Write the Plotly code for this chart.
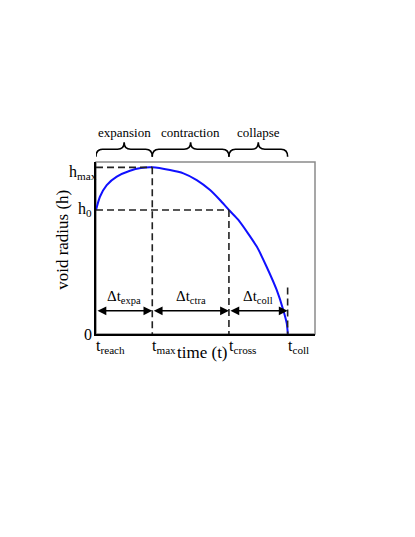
import plotly.graph_objects as go

# ---- data ----
curve_t = [0.0, 0.018, 0.049, 0.095, 0.155, 0.205, 0.257, 0.338, 0.399, 0.460,
           0.521, 0.566, 0.607, 0.650, 0.734, 0.779, 0.825, 0.855, 0.871, 0.876]
curve_h = [0.721, 0.798, 0.866, 0.915, 0.949, 0.965, 0.969, 0.953, 0.934, 0.895,
           0.837, 0.779, 0.721, 0.663, 0.508, 0.391, 0.256, 0.140, 0.062, 0.0]

t_names = ["reach", "max", "cross", "coll"]
t_values = [0.0, 0.257, 0.607, 0.875]

h_names = ["0", "h<sub>0</sub>", "h<sub>max</sub>"]
h_values = [0.0, 0.721, 0.969]

phase_names = ["expansion", "contraction", "collapse"]
delta_names = ["expa", "ctra", "coll"]

# ---- styling constants ----
FONT = "'Liberation Serif', 'Times New Roman', Times, serif"
ARROW_Y = 0.135
COLL_MARK_TOP = 0.27

fig = go.Figure()

fig.add_trace(go.Scatter(
    x=curve_t, y=curve_h, mode="lines",
    line=dict(color="#1010ff", width=2, shape="spline", smoothing=0.6),
    hoverinfo="skip", showlegend=False,
))

dash = "7px,4px"
dline = dict(color="#222222", width=1.6, dash=dash)
t0, tmax, tcross, tcoll = t_values
h0, hmax = h_values[1], h_values[2]

# dashed guide lines
fig.add_shape(type="line", x0=t0, x1=tmax, y0=hmax, y1=hmax, line=dline)
fig.add_shape(type="line", x0=tmax, x1=tmax, y0=hmax, y1=0, line=dline)
fig.add_shape(type="line", x0=t0, x1=tcross, y0=h0, y1=h0, line=dline)
fig.add_shape(type="line", x0=tcross, x1=tcross, y0=h0, y1=0, line=dline)
fig.add_shape(type="line", x0=tcoll, x1=tcoll, y0=COLL_MARK_TOP, y1=0, line=dline)

# frame (gray top/right)
fig.add_shape(type="rect", xref="paper", yref="paper", x0=0, x1=1, y0=0, y1=1,
              line=dict(color="#8a8a8a", width=1.5), layer="below")

# double-headed arrows and delta labels
for i in range(3):
    a, b = t_values[i], t_values[i + 1]
    fig.add_annotation(x=b, y=ARROW_Y, ax=a, ay=ARROW_Y, axref="x", ayref="y",
                       xref="x", yref="y", text="", showarrow=True,
                       arrowside="end+start", arrowhead=2, arrowsize=1.1,
                       arrowwidth=1.6, arrowcolor="black", standoff=0, startstandoff=0)
    fig.add_annotation(x=(a + b) / 2, y=ARROW_Y, xref="x", yref="y",
                       text="Δt<sub>%s</sub>" % delta_names[i], showarrow=False,
                       xanchor="center", yanchor="bottom", yshift=3,
                       font=dict(family=FONT, size=15, color="black"))

# braces and phase labels
yb, ym, yt = 1.031, 1.074, 1.115
r = 0.03
for i in range(3):
    a, b = t_values[i], t_values[i + 1]
    m = (a + b) / 2
    path = (f"M {a},{yb} Q {a},{ym} {a + r},{ym} L {m - r},{ym} "
            f"Q {m},{ym} {m},{yt} Q {m},{ym} {m + r},{ym} "
            f"L {b - r},{ym} Q {b},{ym} {b},{yb}")
    fig.add_shape(type="path", path=path, xref="x", yref="paper",
                  line=dict(color="black", width=1.6))
    fig.add_annotation(x=m, y=1.17, xref="x", yref="paper", text=phase_names[i],
                       showarrow=False, xanchor="center", yanchor="middle",
                       font=dict(family=FONT, size=13, color="black"))

# x tick labels (left aligned)
for name, v in zip(t_names, t_values):
    fig.add_annotation(x=v, y=0, xref="x", yref="paper",
                       text="t<sub>%s</sub>" % name, showarrow=False,
                       xanchor="left", yanchor="top", xshift=-2, yshift=-1,
                       font=dict(family=FONT, size=16, color="black"))

# y tick labels
for name, v in zip(h_names, h_values):
    is_max = v == hmax
    fig.add_annotation(x=0, y=v, xref="paper", yref="y", text=name,
                       showarrow=False, xanchor="right", yanchor="middle",
                       xshift=(3 if is_max else -2), yshift=(-5 if is_max else 0),
                       font=dict(family=FONT, size=16, color="black"))

# axis titles
fig.add_annotation(x=0.484, y=-0.11, xref="x", yref="paper", text="time (t)",
                   showarrow=False, xanchor="center", yanchor="middle",
                   font=dict(family=FONT, size=17, color="black"))
fig.add_annotation(x=-0.151, y=0.547, xref="paper", yref="paper",
                   text="void radius (h)", textangle=-90, showarrow=False,
                   xanchor="center", yanchor="middle",
                   font=dict(family=FONT, size=17, color="black"))

fig.update_xaxes(range=[0, 1], showgrid=False, zeroline=False, showticklabels=False,
                 ticks="", showline=True, linecolor="black", linewidth=1.5)
fig.update_yaxes(range=[0, 1], showgrid=False, zeroline=False, showticklabels=False,
                 ticks="", showline=True, linecolor="black", linewidth=1.5)

fig.update_layout(width=415, height=537, margin=dict(l=88, r=108, t=154, b=211),
                  plot_bgcolor="white", paper_bgcolor="white", showlegend=False,
                  font=dict(family=FONT))

fig.write_html("out.html")
